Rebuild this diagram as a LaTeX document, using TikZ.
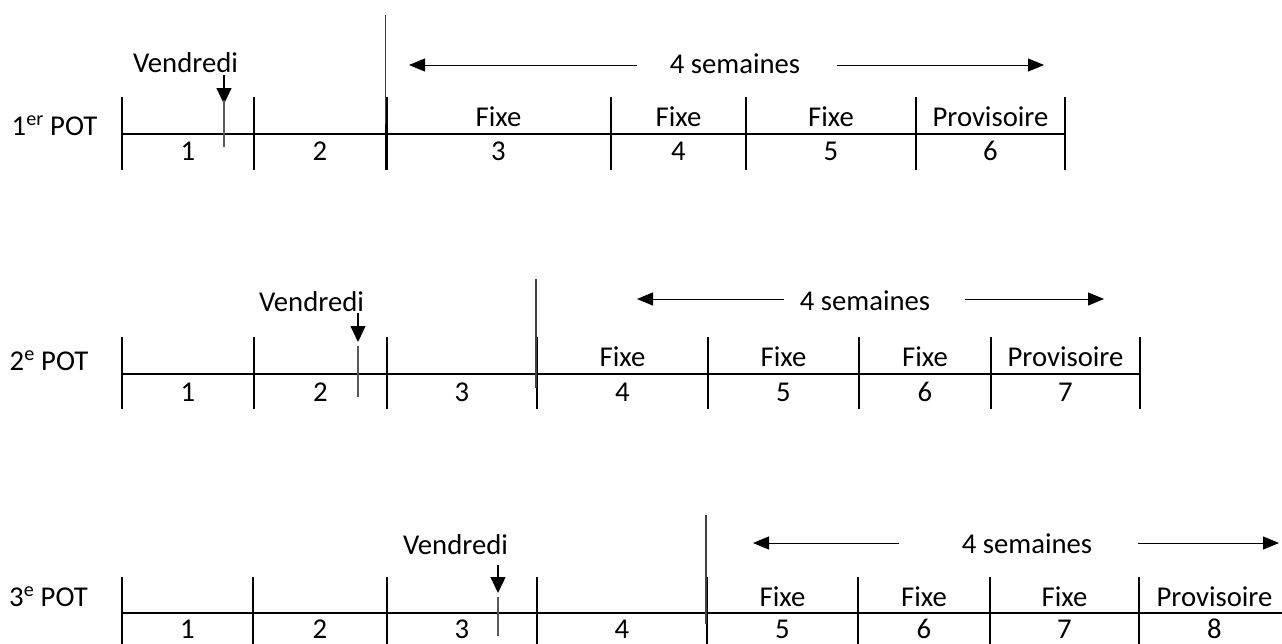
\documentclass[tikz,border=0pt]{standalone}
\usepackage{fontspec}
\setmainfont{Carlito}
\usetikzlibrary{arrows.meta,calc}

\begin{document}
\begin{tikzpicture}[x=1pt,y=-1pt,
  lbl/.style={inner sep=0pt, anchor=base, font=\fontsize{28.7}{34}\selectfont},
  axis/.style={line width=2.6pt},
  tickmark/.style={line width=2.4pt},
  cutline/.style={line width=1.6pt, draw=black!75},
  dayline/.style={line width=1.5pt, draw=black!65},
  span/.style={line width=1pt, -{Triangle[length=16pt,width=13pt]}},
  friday/.style={line width=1.2pt, -{Triangle[length=16pt,width=15pt]}},
]
\useasboundingbox (0,0) rectangle (1282,643);

% ---------------- 1er POT ----------------
\node[lbl] (pot1) at (54.5,135) {1\textsuperscript{er} POT};
\draw[axis] (122,134) -- (1065,134);
\foreach \x in {122,254,386.5,611,746,916,1065}
  \draw[tickmark] (\x,97) -- (\x,170);
\foreach \x/\t [count=\i] in {188/1,320/2,498.5/3,678.5/4,831/5,990.5/6}
  \node[lbl] (a1n\i) at (\x,160.5) {\t};
\foreach \x/\t [count=\i] in {498.5/Fixe,678.5/Fixe,831/Fixe,990.5/Provisoire}
  \node[lbl] (a1f\i) at (\x,126) {\t};
\coordinate (c1t) at (385.3,15);
\coordinate (c1b) at (385.3,124);
\draw[cutline] (c1t) -- (c1b);
\node[lbl] (ven1) at (185.5,72) {Vendredi};
\coordinate (f1a) at (224,75);
\coordinate (f1b) at (224,104);
\coordinate (f1c) at (224,100);
\coordinate (f1d) at (224,147);
\draw[friday] (f1a) -- (f1b);
\draw[dayline] (f1c) -- (f1d);
\node[lbl] (sem1) at (735,73) {4 semaines};
\coordinate (s1l) at (409,65);
\coordinate (s1r) at (1044,65);
\draw[span] ($(s1l -| sem1.west)+(-33,0)$) -- (s1l);
\draw[span] ($(s1r -| sem1.east)+(37,0)$) -- (s1r);

% ---------------- 2e POT ----------------
\node[lbl] (pot2) at (49,370) {2\textsuperscript{e} POT};
\draw[axis] (122,374) -- (1140,374);
\foreach \x in {122,254,387,537,708,859,991,1140}
  \draw[tickmark] (\x,337) -- (\x,409);
\foreach \x/\t [count=\i] in {188/1,320.5/2,462/3,622.5/4,783.5/5,925/6,1065.5/7}
  \node[lbl] (a2n\i) at (\x,401.5) {\t};
\foreach \x/\t [count=\i] in {622.5/Fixe,783.5/Fixe,925/Fixe,1065.5/Provisoire}
  \node[lbl] (a2f\i) at (\x,366) {\t};
\coordinate (c2t) at (536,279);
\coordinate (c2b) at (536,388);
\draw[cutline] (c2t) -- (c2b);
\node[lbl] (ven2) at (311.5,311) {Vendredi};
\coordinate (f2a) at (358,313);
\coordinate (f2b) at (358,342);
\coordinate (f2c) at (358,346);
\coordinate (f2d) at (358,397);
\draw[friday] (f2a) -- (f2b);
\draw[dayline] (f2c) -- (f2d);
\node[lbl] (sem2) at (865,310) {4 semaines};
\coordinate (s2l) at (637,299);
\coordinate (s2r) at (1104,299);
\draw[span] ($(s2l -| sem2.west)+(-16,0)$) -- (s2l);
\draw[span] ($(s2r -| sem2.east)+(35,0)$) -- (s2r);

% ---------------- 3e POT ----------------
\node[lbl] (pot3) at (48.5,606) {3\textsuperscript{e} POT};
\draw[axis] (122,613) -- (1300,613);
\foreach \x in {122,253,387,537,707,858,990,1139,1290}
  \draw[tickmark] (\x,577) -- (\x,650);
\foreach \x/\t [count=\i] in {187.5/1,320/2,462/3,622/4,782.5/5,924/6,1064.5/7,1214.5/8}
  \node[lbl] (a3n\i) at (\x,638.5) {\t};
\foreach \x/\t [count=\i] in {782.5/Fixe,924/Fixe,1064.5/Fixe,1214.5/Provisoire}
  \node[lbl] (a3f\i) at (\x,606) {\t};
\coordinate (c3t) at (706,515);
\coordinate (c3b) at (706,624);
\draw[cutline] (c3t) -- (c3b);
\node[lbl] (ven3) at (455.5,554) {Vendredi};
\coordinate (f3a) at (498,565);
\coordinate (f3b) at (498,593);
\coordinate (f3c) at (498,597);
\coordinate (f3d) at (498,636);
\draw[friday] (f3a) -- (f3b);
\draw[dayline] (f3c) -- (f3d);
\node[lbl] (sem3) at (1027,553) {4 semaines};
\coordinate (s3l) at (753,543);
\coordinate (s3r) at (1279,543);
\draw[span] ($(s3l -| sem3.west)+(-63,0)$) -- (s3l);
\draw[span] ($(s3r -| sem3.east)+(46,0)$) -- (s3r);
\end{tikzpicture}
\end{document}
